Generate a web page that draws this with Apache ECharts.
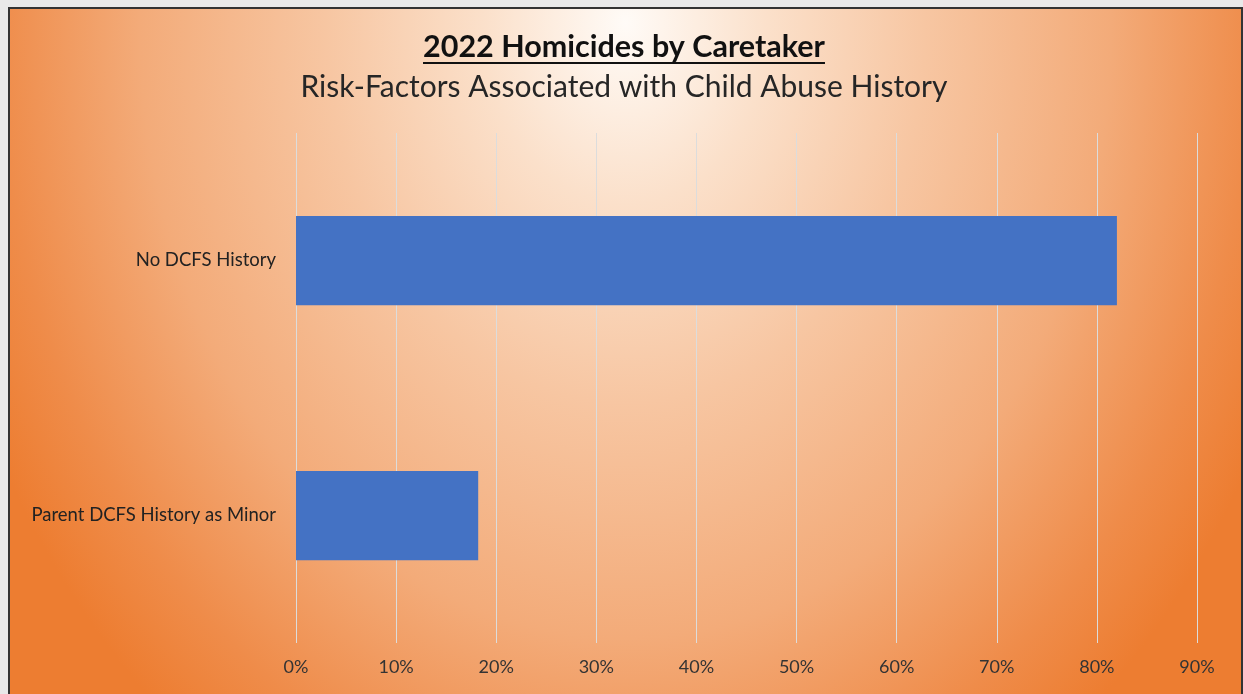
<!DOCTYPE html>
<html>
<head>
<meta charset="utf-8">
<script src="https://cdn.jsdelivr.net/npm/echarts@6/dist/echarts.min.js"></script>
<style>
  html, body { margin:0; padding:0; width:1243px; height:694px; overflow:hidden; background:#e9e9e9; }
  #frame { position:absolute; left:8px; top:7px; width:1235px; height:700px; box-sizing:border-box;
    border:2px solid #333;
    background: radial-gradient(ellipse 58% 130% at 50% 2%, #fffbf7 0%, #fbe0ca 20%, #f7c6a2 42%, #f3ab79 68%, #ef8c4a 88%, #ed7d31 100%); }
  #chart { position:absolute; left:0; top:0; width:1243px; height:694px; }
</style>
</head>
<body>
<div id="frame"></div>
<div id="chart"></div>
<script>
const titleText = '2022 Homicides by Caretaker';
const subtitleText = 'Risk-Factors Associated with Child Abuse History';
const categories = ['No DCFS History', 'Parent DCFS History as Minor'];
const values = [82, 18.2];
const tickMax = 90;
const tickStep = 10;

const titleFont = 'bold 30.5px Lato';
const cx = 624;
const mctx = document.createElement('canvas').getContext('2d');
mctx.font = titleFont;
const tw = mctx.measureText(titleText).width;

const chart = echarts.init(document.getElementById('chart'), null, { renderer: 'canvas' });
chart.setOption({
  backgroundColor: 'transparent',
  animation: false,
  graphic: [
    { type: 'text', x: cx, y: 47, style: { text: titleText, font: titleFont, fill: '#111', align: 'center', verticalAlign: 'middle' } },
    { type: 'line', shape: { x1: cx - tw / 2, y1: 63, x2: cx + tw / 2, y2: 63 }, style: { stroke: '#111', lineWidth: 2 } },
    { type: 'text', x: cx, y: 87, style: { text: subtitleText, font: 'normal 30px Lato', fill: '#262626', align: 'center', verticalAlign: 'middle' } }
  ],
  grid: { left: 296, right: 46, top: 133, bottom: 51, containLabel: false },
  xAxis: {
    type: 'value', min: 0, max: tickMax, interval: tickStep,
    axisLine: { show: false }, axisTick: { show: false },
    splitLine: { show: true, lineStyle: { color: '#dcdcdc', width: 1 } },
    axisLabel: { formatter: '{value}%', color: '#333', fontFamily: 'Lato', fontSize: 18, margin: 15 }
  },
  yAxis: {
    type: 'category', data: categories, inverse: true,
    axisLine: { show: false }, axisTick: { show: false },
    axisLabel: { color: '#222', fontFamily: 'Lato', fontSize: 18.5, margin: 20 }
  },
  series: [{
    type: 'bar', data: values, barCategoryGap: '65%',
    itemStyle: { color: '#4472c4' }
  }]
});
</script>
</body>
</html>
